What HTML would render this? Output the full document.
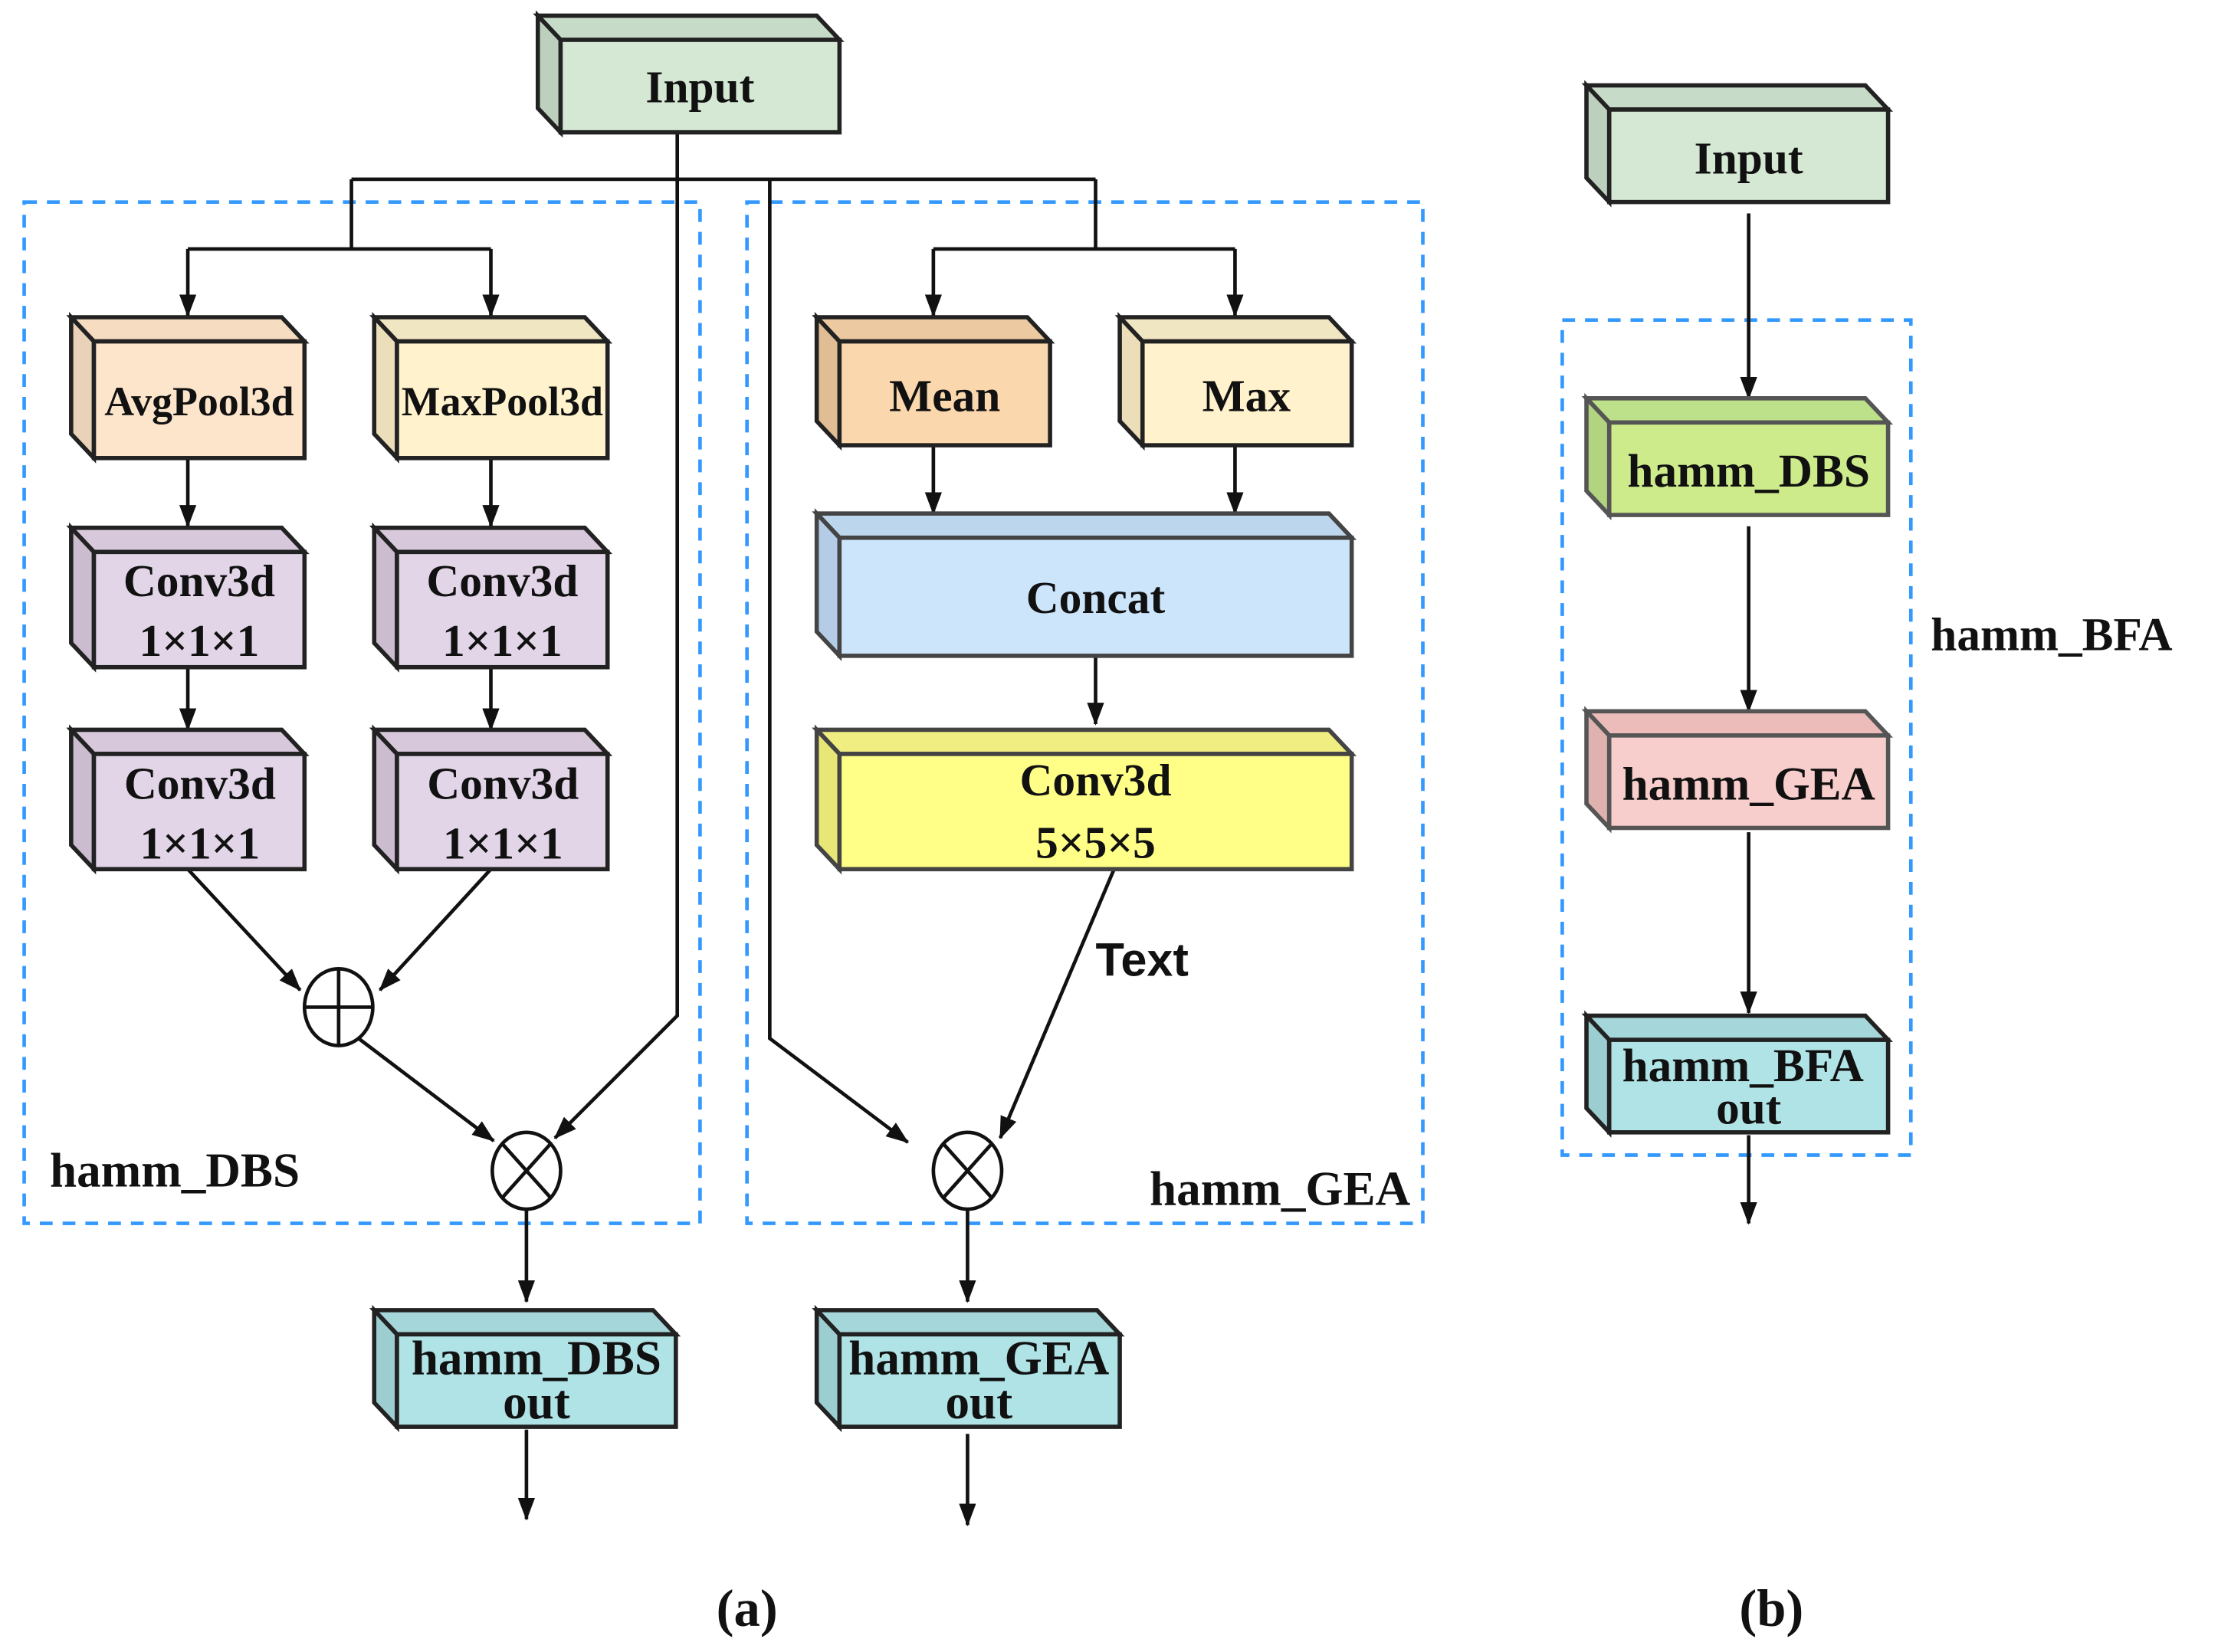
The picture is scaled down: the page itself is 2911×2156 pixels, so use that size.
<!DOCTYPE html>
<html><head><meta charset="utf-8"><style>
html,body{margin:0;padding:0;background:#fff}
svg{display:block}
text{font-family:"Liberation Serif",serif;font-weight:bold;fill:#111}
</style></head><body>
<svg width="2911" height="2156" viewBox="0 0 1568 1161.3" xmlns="http://www.w3.org/2000/svg">
<defs>
<marker id="a" markerWidth="16" markerHeight="12" refX="15" refY="6" orient="auto" markerUnits="userSpaceOnUse" viewBox="0 0 16 12">
<path d="M0,0 L16,6 L0,12 z" fill="#111"/></marker>
</defs>
<g fill="none" stroke="#3399ff" stroke-width="2.5" stroke-dasharray="9,7">
<rect x="17" y="142" width="475" height="718"/>
<rect x="525" y="142" width="475" height="718"/>
<rect x="1098" y="225" width="245" height="587"/>
</g>
<g stroke="#111" stroke-width="2.5" fill="none">
<path d="M476,93 V714 L390,800" marker-end="url(#a)"/>
<path d="M247,126 H770"/>
<path d="M247,126 V175 M132,175 H345"/>
<path d="M132,175 V222" marker-end="url(#a)"/>
<path d="M345,175 V222" marker-end="url(#a)"/>
<path d="M541,126 V730 L638,803" marker-end="url(#a)"/>
<path d="M770,126 V175 M656,175 H868"/>
<path d="M656,175 V222" marker-end="url(#a)"/>
<path d="M868,175 V222" marker-end="url(#a)"/>
<path d="M132,322 V370" marker-end="url(#a)"/>
<path d="M345,322 V370" marker-end="url(#a)"/>
<path d="M132,469 V513" marker-end="url(#a)"/>
<path d="M345,469 V513" marker-end="url(#a)"/>
<path d="M132,611 L211,696" marker-end="url(#a)"/>
<path d="M345,611 L267,696" marker-end="url(#a)"/>
<path d="M252,730 L347,802" marker-end="url(#a)"/>
<path d="M656,313 V361" marker-end="url(#a)"/>
<path d="M868,313 V361" marker-end="url(#a)"/>
<path d="M770,461 V509" marker-end="url(#a)"/>
<path d="M783,611 L703,800" marker-end="url(#a)"/>
<path d="M370,851 V915" marker-end="url(#a)"/>
<path d="M370,1005 V1068" marker-end="url(#a)"/>
<path d="M680,851 V915" marker-end="url(#a)"/>
<path d="M680,1008 V1072" marker-end="url(#a)"/>
<path d="M1229,150 V280" marker-end="url(#a)"/>
<path d="M1229,370 V500" marker-end="url(#a)"/>
<path d="M1229,585 V712" marker-end="url(#a)"/>
<path d="M1229,798 V860" marker-end="url(#a)"/>
</g>
<g stroke="#111" stroke-width="2.5" fill="#fff">
<ellipse cx="238" cy="708" rx="24" ry="27"/>
<path d="M214,708 H262 M238,681 V735" fill="none"/>
<ellipse cx="370" cy="823" rx="24" ry="27"/>
<path d="M353,804 L387,842 M387,804 L353,842" fill="none"/>
<ellipse cx="680" cy="823" rx="24" ry="27"/>
<path d="M663,804 L697,842 M697,804 L663,842" fill="none"/>
</g>
<g stroke="#222" stroke-width="3" stroke-linejoin="miter">
<polygon points="378,11 574,11 590,28 394,28" fill="#c6dcc8"/>
<polygon points="378,11 394,28 394,93 378,76" fill="#bcd0bd"/>
<rect x="394" y="28" width="196" height="65" fill="#d5e8d4"/>
<polygon points="50,223 198,223 214,240 66,240" fill="#f6dcc0"/>
<polygon points="50,223 66,240 66,322 50,305" fill="#ead2b8"/>
<rect x="66" y="240" width="148" height="82" fill="#fde5cc"/>
<polygon points="263,223 411,223 427,240 279,240" fill="#f1e6c2"/>
<polygon points="263,223 279,240 279,322 263,305" fill="#ebdeb8"/>
<rect x="279" y="240" width="148" height="82" fill="#fff2cc"/>
<polygon points="50,371 198,371 214,388 66,388" fill="#d8c8dc"/>
<polygon points="50,371 66,388 66,469 50,452" fill="#cbbcd0"/>
<rect x="66" y="388" width="148" height="81" fill="#e1d5e7"/>
<polygon points="263,371 411,371 427,388 279,388" fill="#d8c8dc"/>
<polygon points="263,371 279,388 279,469 263,452" fill="#cbbcd0"/>
<rect x="279" y="388" width="148" height="81" fill="#e1d5e7"/>
<polygon points="50,513 198,513 214,530 66,530" fill="#d8c8dc"/>
<polygon points="50,513 66,530 66,611 50,594" fill="#cbbcd0"/>
<rect x="66" y="530" width="148" height="81" fill="#e1d5e7"/>
<polygon points="263,513 411,513 427,530 279,530" fill="#d8c8dc"/>
<polygon points="263,513 279,530 279,611 263,594" fill="#cbbcd0"/>
<rect x="279" y="530" width="148" height="81" fill="#e1d5e7"/>
<polygon points="574,223 722,223 738,240 590,240" fill="#ecc9a0"/>
<polygon points="574,223 590,240 590,313 574,296" fill="#e0bd94"/>
<rect x="590" y="240" width="148" height="73" fill="#fad7ac"/>
<polygon points="787,223 934,223 950,240 803,240" fill="#f1e6c2"/>
<polygon points="787,223 803,240 803,313 787,296" fill="#ebdeb8"/>
<rect x="803" y="240" width="147" height="73" fill="#fff2cc"/>
<polygon points="574,361 934,361 950,378 590,378" fill="#bcd6ee" stroke="#444"/>
<polygon points="574,361 590,378 590,461 574,444" fill="#b4cce6" stroke="#444"/>
<rect x="590" y="378" width="360" height="83" fill="#cce5fb" stroke="#444"/>
<polygon points="574,513 934,513 950,530 590,530" fill="#f0ee80" stroke="#444"/>
<polygon points="574,513 590,530 590,611 574,594" fill="#e8e676" stroke="#444"/>
<rect x="590" y="530" width="360" height="81" fill="#ffff88" stroke="#444"/>
<polygon points="263,921 459,921 475,938 279,938" fill="#a5d6da"/>
<polygon points="263,921 279,938 279,1003 263,986" fill="#9ccdd1"/>
<rect x="279" y="938" width="196" height="65" fill="#b0e3e6"/>
<polygon points="574,921 771,921 787,938 590,938" fill="#a5d6da"/>
<polygon points="574,921 590,938 590,1003 574,986" fill="#9ccdd1"/>
<rect x="590" y="938" width="197" height="65" fill="#b0e3e6"/>
<polygon points="1115,60 1311,60 1327,77 1131,77" fill="#c6dcc8"/>
<polygon points="1115,60 1131,77 1131,142 1115,125" fill="#bcd0bd"/>
<rect x="1131" y="77" width="196" height="65" fill="#d5e8d4"/>
<polygon points="1115,280 1311,280 1327,297 1131,297" fill="#bde08a" stroke="#555"/>
<polygon points="1115,280 1131,297 1131,362 1115,345" fill="#b2d480" stroke="#555"/>
<rect x="1131" y="297" width="196" height="65" fill="#cdeb8b" stroke="#555"/>
<polygon points="1115,500 1311,500 1327,517 1131,517" fill="#ebbcb9" stroke="#555"/>
<polygon points="1115,500 1131,517 1131,582 1115,565" fill="#e0b2af" stroke="#555"/>
<rect x="1131" y="517" width="196" height="65" fill="#f8cecc" stroke="#555"/>
<polygon points="1115,714 1311,714 1327,731 1131,731" fill="#a5d6da"/>
<polygon points="1115,714 1131,731 1131,796 1115,779" fill="#9ccdd1"/>
<rect x="1131" y="731" width="196" height="65" fill="#b0e3e6"/>
</g>
<g font-size="32" text-anchor="middle">
<text x="492" y="72">Input</text>
<text x="140" y="292" font-size="29">AvgPool3d</text>
<text x="353" y="292" font-size="29">MaxPool3d</text>
<text x="140" y="419">Conv3d</text><text x="140" y="461">1×1×1</text>
<text x="353" y="419">Conv3d</text><text x="353" y="461">1×1×1</text>
<text x="140.5" y="561.5">Conv3d</text><text x="140.5" y="603.5">1×1×1</text>
<text x="353.5" y="561.5">Conv3d</text><text x="353.5" y="603.5">1×1×1</text>
<text x="664" y="289">Mean</text>
<text x="876" y="289">Max</text>
<text x="770" y="431">Concat</text>
<text x="770" y="559">Conv3d</text><text x="770" y="603">5×5×5</text>
<text x="377" y="966" font-size="34">hamm_DBS</text><text x="377" y="997" font-size="34">out</text>
<text x="688" y="966" font-size="34">hamm_GEA</text><text x="688" y="997" font-size="34">out</text>
<text x="1229" y="122">Input</text>
<text x="1229" y="342" font-size="33">hamm_DBS</text>
<text x="1229" y="562" font-size="33">hamm_GEA</text>
<text x="1225" y="760" font-size="33">hamm_BFA</text><text x="1229" y="790" font-size="33">out</text>
<text x="525" y="1143" font-size="37">(a)</text>
<text x="1245" y="1143" font-size="37">(b)</text>
</g>
<g font-size="34">
<text x="35" y="834">hamm_DBS</text>
<text x="808" y="847">hamm_GEA</text>
<text x="1357" y="457" font-size="33">hamm_BFA</text>
<text x="770" y="686" font-size="33" style="font-family:'Liberation Sans',sans-serif">Text</text>
</g>
</svg>
</body></html>
